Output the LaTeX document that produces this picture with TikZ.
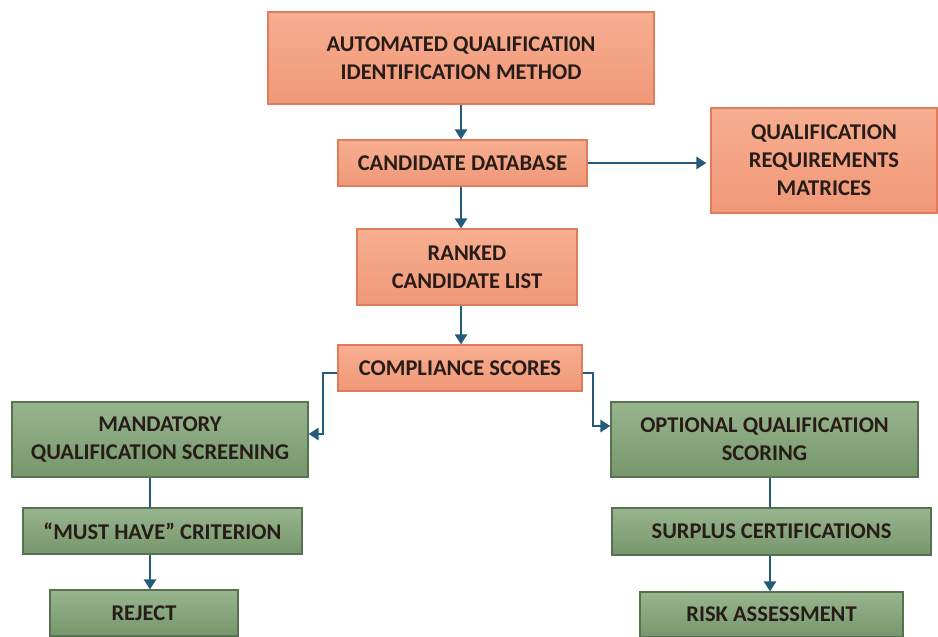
\documentclass[tikz,border=0pt]{standalone}
\usepackage{fontspec}
\setmainfont{Carlito}
\usetikzlibrary{arrows.meta,calc}
\definecolor{salmonT}{RGB}{247,174,144}
\definecolor{salmonB}{RGB}{240,152,120}
\definecolor{salmonD}{RGB}{222,124,92}
\definecolor{greenT}{RGB}{152,182,142}
\definecolor{greenB}{RGB}{118,150,108}
\definecolor{greenD}{RGB}{86,114,80}
\definecolor{flow}{RGB}{36,90,122}
\definecolor{ink}{RGB}{40,28,24}
\tikzset{
  x=1pt, y=-1pt,
  basebox/.style={rectangle, inner sep=2pt, align=center, text=ink,
    font=\fontsize{22.5}{28}\selectfont\bfseries, line width=1.2pt},
  redbox/.style={basebox, draw=salmonD, top color=salmonT, bottom color=salmonB},
  grnbox/.style={basebox, draw=greenD, top color=greenT, bottom color=greenB},
  flowline/.style={draw=flow, line width=2.8pt},
  flowarrow/.style={flowline, -{Triangle[length=10pt,width=12pt]}},
}
\begin{document}
\begin{tikzpicture}
\useasboundingbox (0,0) rectangle (938,637);

% upper chain
\node[redbox, minimum width=386pt, minimum height=92pt] (auto) at (461,58)
  {AUTOMATED QUALIFICATI0N\\IDENTIFICATION METHOD};
\node[redbox, minimum width=249pt, minimum height=46pt] (cand) at (462.5,163)
  {CANDIDATE DATABASE};
\node[redbox, minimum width=226pt, minimum height=105pt] (qrm) at (824,160.5)
  {QUALIFICATION\\REQUIREMENTS\\MATRICES};
\node[redbox, minimum width=220pt, minimum height=76pt] (rank) at (467,267)
  {RANKED\\CANDIDATE LIST};
\node[redbox, minimum width=244pt, minimum height=46pt] (comp) at (460,368)
  {COMPLIANCE SCORES};

% left branch
\node[grnbox, minimum width=296pt, minimum height=75pt] (mand) at (160,439.5)
  {MANDATORY\\QUALIFICATION SCREENING};
\node[grnbox, minimum width=279pt, minimum height=46pt] (must) at (162.5,531)
  {“MUST HAVE” CRITERION};
\node[grnbox, minimum width=188pt, minimum height=46pt] (rej) at (144,613)
  {REJECT};

% right branch
\node[grnbox, minimum width=307pt, minimum height=75pt] (opt) at (764.5,439.5)
  {OPTIONAL QUALIFICATION\\SCORING};
\node[grnbox, minimum width=319pt, minimum height=47pt] (surp) at (771.5,531.5)
  {SURPLUS CERTIFICATIONS};
\node[grnbox, minimum width=263pt, minimum height=45pt] (risk) at (771.5,614.5)
  {RISK ASSESSMENT};

% connectors of the upper chain
\draw[flowarrow] (auto.south) -- (auto.south |- cand.north);
\draw[flowarrow] (cand.east) -- ([xshift=-4pt]qrm.west |- cand.east);
\draw[flowarrow] ([xshift=-1.5pt]cand.south) -- ([xshift=-1.5pt]cand.south |- rank.north);
\draw[flowarrow] ([xshift=-6pt]rank.south) -- ([xshift=-6pt]rank.south |- comp.north);

% split into the two branches
\coordinate (lkink) at (323,373);
\coordinate (rkink) at (593,373);
\draw[flowarrow] (comp.west |- lkink) -- (lkink) |- ([yshift=5.5pt]mand.east);
\draw[flowarrow] (comp.east |- rkink) -- (rkink) |- ([yshift=13.5pt]opt.west);

% branch connectors
\draw[flowline] ([xshift=-10pt]mand.south) -- ([xshift=-10pt]mand.south |- must.north);
\draw[flowarrow] ([xshift=-12.5pt]must.south) -- ([xshift=-12.5pt]must.south |- rej.north);
\draw[flowline] ([xshift=5.5pt]opt.south) -- ([xshift=5.5pt]opt.south |- surp.north);
\draw[flowarrow] ([xshift=-1.5pt]surp.south) -- ([xshift=-1.5pt]surp.south |- risk.north);
\end{tikzpicture}
\end{document}
